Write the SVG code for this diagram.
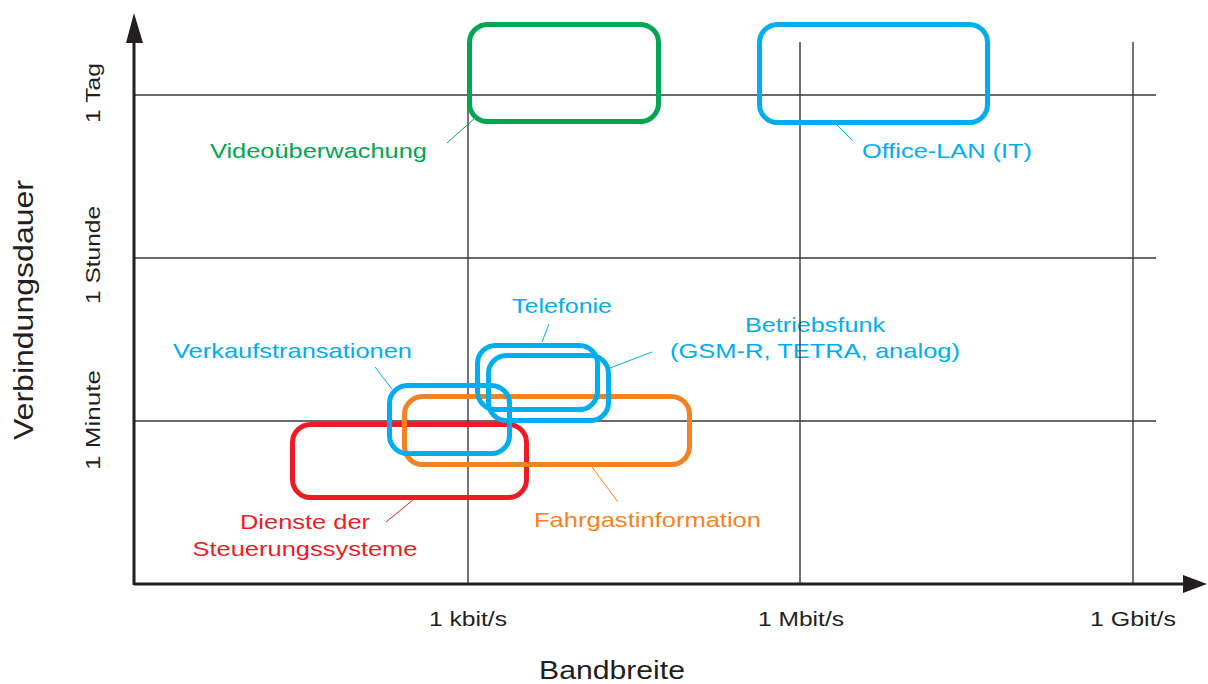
<svg xmlns="http://www.w3.org/2000/svg" width="1208" height="684" viewBox="0 0 1208 684">
<style>
text{font-family:"Liberation Sans",Arial,sans-serif;font-size:21px}
.ax{fill:#231f20}
.grid{stroke:#3a3a3a;stroke-width:1.4;fill:none}
.box{fill:none;stroke-width:5}
.lead{stroke-width:1;fill:none}
.g{stroke:#00a651}.gt{fill:#00a651}
.b{stroke:#00aeef}.bt{fill:#00aeef}
.r{stroke:#ed1c24}.rt{fill:#ed1c24}
.o{stroke:#f58220}.ot{fill:#f58220}
</style>
<rect width="1208" height="684" fill="#fff"/>
<g id="labels-axes">
<text class="ax" x="0" y="0" transform="translate(33,310) rotate(-90)" text-anchor="middle" style="font-size:27px" textLength="260" lengthAdjust="spacingAndGlyphs">Verbindungsdauer</text>
<text class="ax" x="0" y="0" transform="translate(100,93) rotate(-90)" text-anchor="middle" textLength="60" lengthAdjust="spacingAndGlyphs">1 Tag</text>
<text class="ax" x="0" y="0" transform="translate(100,255) rotate(-90)" text-anchor="middle" textLength="98" lengthAdjust="spacingAndGlyphs">1 Stunde</text>
<text class="ax" x="0" y="0" transform="translate(100,420) rotate(-90)" text-anchor="middle" textLength="100" lengthAdjust="spacingAndGlyphs">1 Minute</text>
<text class="ax" x="468" y="626" text-anchor="middle" textLength="78" lengthAdjust="spacingAndGlyphs">1 kbit/s</text>
<text class="ax" x="801" y="626" text-anchor="middle" textLength="86" lengthAdjust="spacingAndGlyphs">1 Mbit/s</text>
<text class="ax" x="1133" y="626" text-anchor="middle" textLength="86" lengthAdjust="spacingAndGlyphs">1 Gbit/s</text>
<text class="ax" x="612" y="679" text-anchor="middle" style="font-size:25px" textLength="146" lengthAdjust="spacingAndGlyphs">Bandbreite</text>
</g>
<g id="node-video">
<text class="gt" x="210" y="158" textLength="217" lengthAdjust="spacingAndGlyphs">Videoüberwachung</text>
</g>
<g id="node-office">
<text class="bt" x="862" y="158" textLength="170" lengthAdjust="spacingAndGlyphs">Office-LAN (IT)</text>
</g>
<g id="node-telefonie">
<text class="bt" x="512" y="313" textLength="100" lengthAdjust="spacingAndGlyphs">Telefonie</text>
</g>
<g id="node-betriebsfunk">
<text class="bt" x="815" y="332" text-anchor="middle" textLength="140" lengthAdjust="spacingAndGlyphs">Betriebsfunk</text>
<text class="bt" x="815" y="358" text-anchor="middle" textLength="290" lengthAdjust="spacingAndGlyphs">(GSM-R, TETRA, analog)</text>
</g>
<g id="node-verkauf">
<text class="bt" x="173" y="358" textLength="239" lengthAdjust="spacingAndGlyphs">Verkaufstransationen</text>
</g>
<g id="node-fahrgast">
<text class="ot" x="534" y="527" textLength="227" lengthAdjust="spacingAndGlyphs">Fahrgastinformation</text>
</g>
<g id="node-dienste">
<text class="rt" x="305" y="529" text-anchor="middle" textLength="130" lengthAdjust="spacingAndGlyphs">Dienste der</text>
<text class="rt" x="305" y="556" text-anchor="middle" textLength="225" lengthAdjust="spacingAndGlyphs">Steuerungssysteme</text>
</g>
<g id="grid">
<path class="grid" d="M134 95H1156M134 258H1156M134 421H1156M468 42V584M800 42V584M1133 42V584"/>
</g>
<g id="axes">
<path d="M134 585V40M134 584H1186" stroke="#231f20" stroke-width="3" fill="none"/>
<polygon points="134,13 126,43 143,43" fill="#231f20"/>
<polygon points="1207,584 1183,575 1183,593" fill="#231f20"/>
</g>
<g id="boxes">
<rect class="box g" x="469.5" y="24.5" width="189" height="97" rx="18"/>
<rect class="box b" x="759.5" y="24.5" width="228" height="98" rx="18"/>
<rect class="box r" x="292.5" y="424.5" width="234" height="73" rx="18"/>
<rect class="box o" x="404.5" y="396.5" width="285" height="68" rx="18"/>
<rect class="box b" x="389.5" y="385.5" width="120" height="68" rx="18"/>
<rect class="box b" x="477.5" y="345.5" width="120" height="64" rx="18"/>
<rect class="box b" x="488.5" y="355.5" width="120" height="65" rx="18"/>
</g>
<g id="connectors">
<line class="lead g" x1="447" y1="143" x2="475" y2="118"/>
<line class="lead b" x1="837" y1="125" x2="853" y2="141"/>
<line class="lead b" x1="542" y1="342" x2="549" y2="324"/>
<line class="lead b" x1="610" y1="368" x2="652" y2="352"/>
<line class="lead b" x1="375" y1="367" x2="392" y2="389"/>
<line class="lead o" x1="592" y1="467" x2="618" y2="502"/>
<line class="lead r" x1="386" y1="522" x2="414" y2="499"/>
</g>
</svg>
